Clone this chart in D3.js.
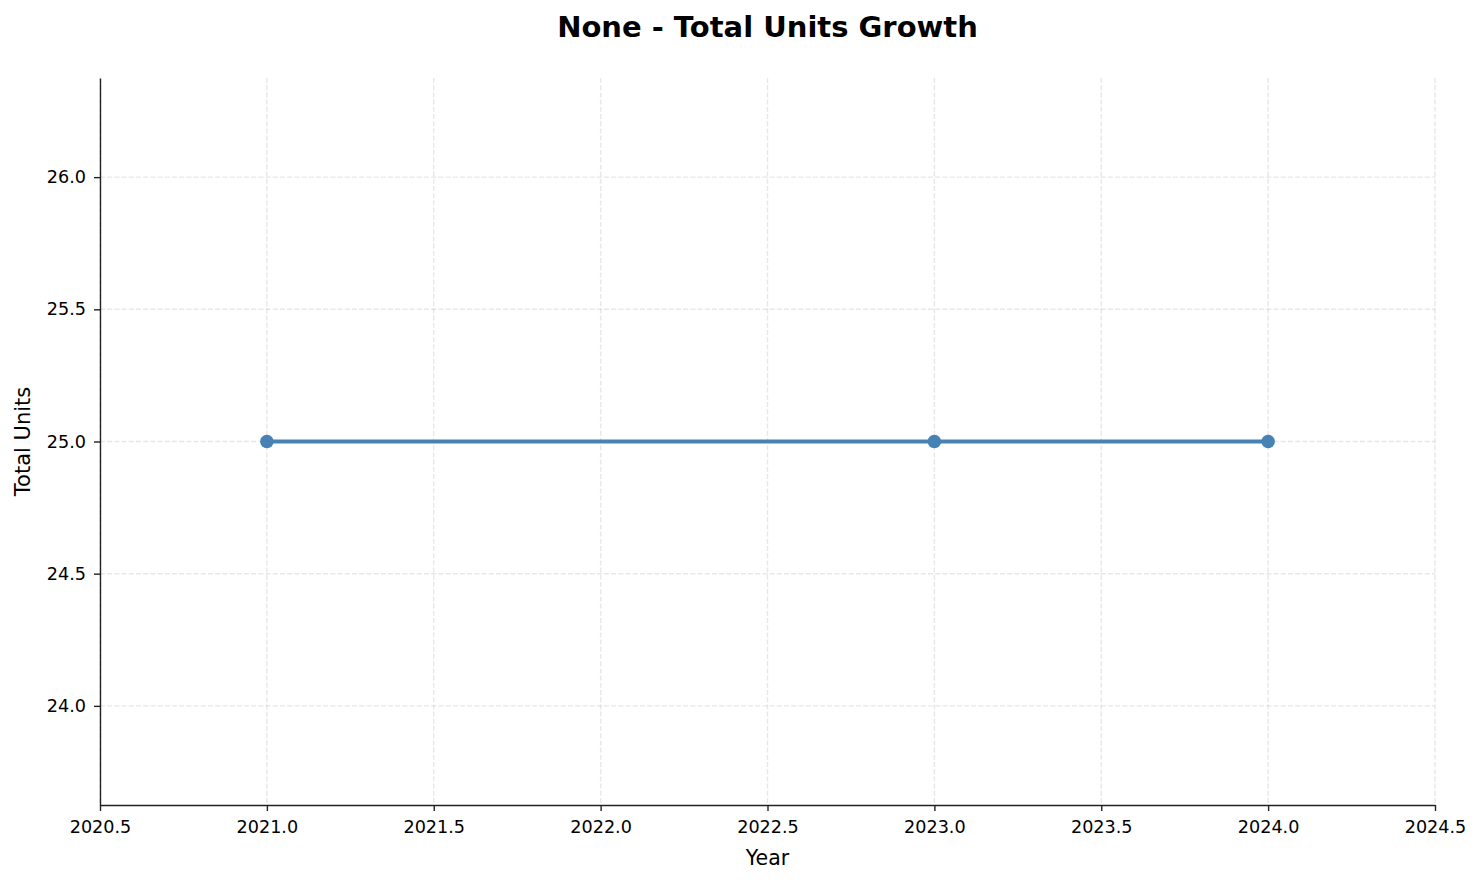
<!DOCTYPE html>
<html>
<head>
<meta charset="utf-8">
<script src="https://cdn.jsdelivr.net/npm/d3@7"></script>
<style>
    body { margin: 0; background: #fff; }
    svg { display: block; font-family: "DejaVu Sans", sans-serif; }
</style>
</head>
<body>
<div id="chart"></div>
<script>
// data
const years = [2021, 2023, 2024];
const totalUnits = [25, 25, 25];
const xTicks = [2020.5, 2021.0, 2021.5, 2022.0, 2022.5, 2023.0, 2023.5, 2024.0, 2024.5];
const yTicks = [24.0, 24.5, 25.0, 25.5, 26.0];
const xDomain = [2020.5, 2024.5];
const yDomain = [23.625, 26.375];

const W = 1483, H = 883;
const margin = { top: 78, right: 48, bottom: 78, left: 100 };
const width = W - margin.left - margin.right;
const height = H - margin.top - margin.bottom;

const svg = d3.select('#chart')
    .append('svg')
    .attr('width', W)
    .attr('height', H);

const g = svg.append('g')
    .attr('transform', `translate(${margin.left}, ${margin.top})`);

const xScale = d3.scaleLinear().domain(xDomain).range([0, width]);
const yScale = d3.scaleLinear().domain(yDomain).range([height, 0]);

// grid
g.append('g')
    .selectAll('line')
    .data(xTicks)
    .join('line')
    .attr('x1', d => xScale(d)).attr('x2', d => xScale(d))
    .attr('y1', 0).attr('y2', height)
    .attr('stroke', '#b0b0b0')
    .attr('stroke-opacity', 0.3)
    .attr('stroke-width', 1.4)
    .attr('stroke-dasharray', '5,2.2');

g.append('g')
    .selectAll('line')
    .data(yTicks)
    .join('line')
    .attr('x1', 0).attr('x2', width)
    .attr('y1', d => yScale(d)).attr('y2', d => yScale(d))
    .attr('stroke', '#b0b0b0')
    .attr('stroke-opacity', 0.3)
    .attr('stroke-width', 1.4)
    .attr('stroke-dasharray', '5,2.2');

// axes
const xAxis = g.append('g')
    .attr('transform', `translate(0, ${height})`)
    .call(d3.axisBottom(xScale).tickValues(xTicks).tickFormat(d3.format('.1f')).tickSize(6).tickPadding(10).tickSizeOuter(0));

const yAxis = g.append('g')
    .call(d3.axisLeft(yScale).tickValues(yTicks).tickFormat(d3.format('.1f')).tickSize(6).tickPadding(8).tickSizeOuter(0));

[xAxis, yAxis].forEach(a => {
    a.select('.domain').attr('stroke', '#222').attr('stroke-width', 1.4);
    a.selectAll('.tick line').attr('stroke', '#222').attr('stroke-width', 1.4);
    a.selectAll('.tick text')
        .attr('fill', '#000')
        .style('font-family', '"DejaVu Sans", sans-serif')
        .style('font-size', '17.6px');
});

// line
const line = d3.line()
    .x((d, i) => xScale(years[i]))
    .y(d => yScale(d));

g.append('path')
    .datum(totalUnits)
    .attr('fill', 'none')
    .attr('stroke', '#4682b4')
    .attr('stroke-width', 4)
    .attr('d', line);

g.append('g')
    .selectAll('circle')
    .data(totalUnits)
    .join('circle')
    .attr('cx', (d, i) => xScale(years[i]))
    .attr('cy', d => yScale(d))
    .attr('r', 6.8)
    .attr('fill', '#4682b4');

// labels
svg.append('text')
    .attr('x', margin.left + width / 2)
    .attr('y', 37)
    .attr('text-anchor', 'middle')
    .style('font-size', '29px')
    .style('font-weight', 'bold')
    .text('None - Total Units Growth');

svg.append('text')
    .attr('x', margin.left + width / 2)
    .attr('y', 865)
    .attr('text-anchor', 'middle')
    .style('font-size', '20.5px')
    .text('Year');

svg.append('text')
    .attr('transform', `translate(30, ${margin.top + height / 2}) rotate(-90)`)
    .attr('text-anchor', 'middle')
    .style('font-size', '21px')
    .text('Total Units');
</script>
</body>
</html>
